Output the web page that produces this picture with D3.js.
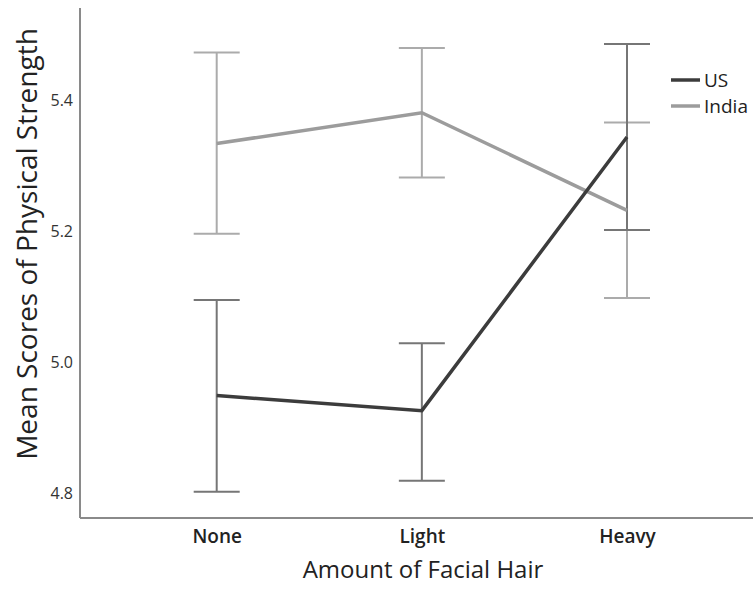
<!DOCTYPE html>
<html>
<head>
<meta charset="utf-8">
<script src="https://cdn.jsdelivr.net/npm/d3@7"></script>
<style>
  body { margin: 0; background: #fff; }
  text { font-family: "Open Sans", sans-serif; fill: #222; }
</style>
</head>
<body>
<div id="chart"></div>
<script>
// 1: DATA
const categories = ["None", "Light", "Heavy"];
const seriesNames = ["US", "India"];
const usMean  = [4.949, 4.926, 5.344];
const usLow   = [4.802, 4.819, 5.202];
const usHigh  = [5.095, 5.029, 5.486];
const indiaMean = [5.334, 5.381, 5.232];
const indiaLow  = [5.196, 5.282, 5.098];
const indiaHigh = [5.473, 5.480, 5.366];
const yTicks = [4.8, 5.0, 5.2, 5.4];

// 2: LAYOUT
const width = 753, height = 591;
const plot = { left: 80, right: 753, top: 8, bottom: 518 };

const svg = d3.select("#chart")
    .append("svg")
    .attr("width", width)
    .attr("height", height);

// 3: SCALES
const xScale = d3.scalePoint()
    .domain(categories)
    .range([216.7, 627])
    .padding(0);

const yScale = d3.scaleLinear()
    .domain([4.762, 5.541])
    .range([plot.bottom, plot.top]);

const series = [
    { name: "US", mean: usMean, low: usLow, high: usHigh, line: "#3c3c3c", bar: "#767676" },
    { name: "India", mean: indiaMean, low: indiaLow, high: indiaHigh, line: "#9c9c9c", bar: "#ababab" }
];

// 4: AXES (lines only, labels drawn by axis generator)
const yAxis = svg.append("g")
    .attr("transform", `translate(${plot.left},0)`)
    .call(d3.axisLeft(yScale).tickValues(yTicks).tickFormat(d3.format(".1f")).tickSize(0).tickPadding(7));
yAxis.select(".domain").remove();
yAxis.selectAll("text")
    .style("font-size", "16px")
    .style("fill", "#333")
    .style("font-family", "'Open Sans', sans-serif");

const xAxis = svg.append("g")
    .attr("transform", `translate(0,${plot.bottom})`)
    .call(d3.axisBottom(xScale).tickSize(0).tickPadding(12));
xAxis.select(".domain").remove();
xAxis.selectAll("text")
    .style("font-size", "19px")
    .style("font-weight", "600")
    .style("fill", "#222")
    .style("font-family", "'Open Sans', sans-serif");

svg.append("line")
    .attr("x1", plot.left).attr("x2", plot.left)
    .attr("y1", plot.top).attr("y2", plot.bottom)
    .style("stroke", "#8a8a8a").style("stroke-width", 2);
svg.append("line")
    .attr("x1", plot.left).attr("x2", plot.right)
    .attr("y1", plot.bottom).attr("y2", plot.bottom)
    .style("stroke", "#8a8a8a").style("stroke-width", 2);

// 5: ERROR BARS
const capHalf = 23;
series.slice().reverse().forEach(s => {
    const g = svg.append("g");
    categories.forEach((c, i) => {
        const x = xScale(c);
        g.append("line")
            .attr("x1", x).attr("x2", x)
            .attr("y1", yScale(s.low[i])).attr("y2", yScale(s.high[i]))
            .style("stroke", s.bar).style("stroke-width", 2);
        [s.low[i], s.high[i]].forEach(v => {
            g.append("line")
                .attr("x1", x - capHalf).attr("x2", x + capHalf)
                .attr("y1", yScale(v)).attr("y2", yScale(v))
                .style("stroke", s.bar).style("stroke-width", 2);
        });
    });
});

// 6: MEAN LINES
const line = d3.line()
    .x((d, i) => xScale(categories[i]))
    .y(d => yScale(d));

series.slice().reverse().forEach(s => {
    svg.append("path")
        .attr("d", line(s.mean))
        .style("fill", "none")
        .style("stroke", s.line)
        .style("stroke-width", 3.5);
});

// 7: TITLES
svg.append("text")
    .attr("x", 423)
    .attr("y", 578)
    .attr("text-anchor", "middle")
    .style("font-size", "24px")
    .text("Amount of Facial Hair");

svg.append("text")
    .attr("transform", "translate(37,244) rotate(-90)")
    .attr("text-anchor", "middle")
    .style("font-size", "28px")
    .text("Mean Scores of Physical Strength");

// 8: LEGEND
const legend = svg.selectAll(".legend")
    .data(series)
    .enter()
    .append("g")
    .attr("class", "legend")
    .attr("transform", (d, i) => `translate(671, ${80 + i * 26})`);

legend.append("line")
    .attr("x1", 0).attr("x2", 29)
    .style("stroke", d => d.line)
    .style("stroke-width", 3.5);

legend.append("text")
    .attr("x", 33)
    .attr("y", 7)
    .style("font-size", "19px")
    .text(d => d.name);
</script>
</body>
</html>
